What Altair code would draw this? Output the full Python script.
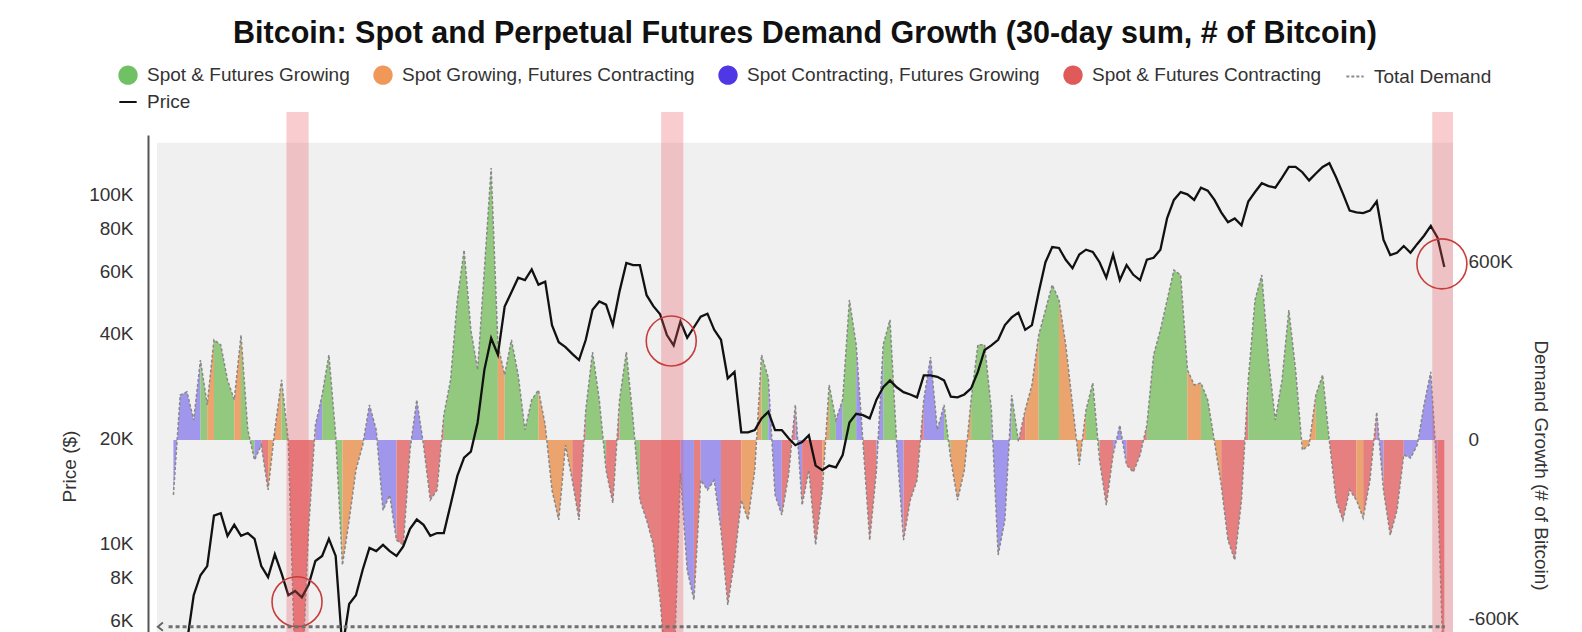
import altair as alt
import pandas as pd

TITLE = "Bitcoin: Spot and Perpetual Futures Demand Growth (30-day sum, # of Bitcoin)"

REGIME_NAMES = {
    "G": "Spot & Futures Growing",
    "O": "Spot Growing, Futures Contracting",
    "B": "Spot Contracting, Futures Growing",
    "R": "Spot & Futures Contracting",
}
CATS = [REGIME_NAMES[k] for k in "GOBR"]
LEGEND_ITEMS = CATS + ["Total Demand", "Price"]
LEGEND_COLORS = ["#6fc163", "#f0975a", "#4f37e6", "#e05a5a", "#8c8c8c", "#111111"]
AREA_COLORS = ["#93c97f", "#eca46f", "#a096ec", "#e68080"]

# samples every 14 days starting 2019-03-28
START = "2019-03-28"
STEP = "14D"

# 30-day demand growth, thousands of BTC
demand_k = [
    -185, 151, 162, 67, 269, 118, 337, 320, 202, 135,
    353, 34, -67, -17, -168, 34, 202, -5, -780, -820,
    -300, 50, 151, 286, 17, -421, -269, -101, -17, 118,
    34, -236, -185, -337, -353, -34, 135, -17, -202, -168,
    84, 202, 471, 639, 370, 236, 572, 915, 320, 219,
    337, 219, 34, 135, 168, 50, -168, -269, -17, -135,
    -269, 101, 296, 135, -101, -212, 135, 296, 67, -202,
    -269, -353, -538, -808, -808, -111, -437, -538, -135, -168,
    -135, -303, -555, -404, -202, -269, -101, 286, 209, -185,
    -252, -118, 118, -219, -101, -353, -168, 185, 67, 135,
    471, 320, -5, -337, -101, 320, 404, -17, -337, -202,
    -135, 135, 279, 34, 118, -67, -202, -101, 135, 320,
    320, 101, -387, -269, 151, -5, 101, 185, 353, 437,
    522, 471, 320, 118, -84, 101, 192, -67, -219, -50,
    50, -84, -108, -50, 50, 286, 370, 471, 572, 555,
    236, 185, 192, 135, -5, -151, -337, -404, -202, 202,
    471, 555, 269, 67, 202, 437, 236, -34, -17, 151,
    219, -5, -202, -269, -168, -202, -262, -135, 94, -168,
    -320, -236, -50, -61, -17, 118, 229, -135, -875,
]

# regime code per sample (G, O, B, R)
regime = (
    "BBBBGOGGGO" "GGBROOGRRR" "RBGGGOOOBB" "BBBRRBBRRR" "GGGGGGGGOG"
    "GGGGOOOOOR" "RGGGRRGGGR" "RRRRRBBRBB" "BRRROOOGBB" "RRBRRROGBG"
    "GBRRBGGBRR" "RBBBGOOOGG" "GBBBGROOGG" "GOOOOGGRRB" "BRRRGGGGGG"
    "OOGGORRRRG" "GGGGGGGOOG" "GRRRRORRBR" "RRBBBBBRR"
)

# BTC price, thousands of USD
price_k = [
    4.1, 4.5, 5.2, 7.1, 8.1, 8.6, 12.0, 12.2, 10.5, 11.3,
    10.5, 10.7, 10.3, 8.6, 8.0, 9.3, 8.2, 7.1, 7.3, 7.0,
    7.6, 8.9, 9.2, 10.3, 9.2, 5.0, 6.7, 7.1, 8.4, 9.7,
    9.5, 9.9, 9.5, 9.2, 9.8, 11.0, 11.7, 11.3, 10.5, 10.7,
    10.7, 12.9, 15.6, 17.6, 18.3, 22.2, 31.4, 38.7, 34.7, 47.7,
    52.4, 57.7, 56.8, 60.9, 55.1, 56.2, 42.2, 37.7, 36.5, 34.9,
    33.5, 38.3, 46.7, 49.3, 48.3, 42.2, 52.8, 63.6, 62.7, 62.7,
    51.4, 47.8, 45.3, 39.5, 36.9, 43.2, 38.8, 41.6, 44.6, 45.5,
    40.9, 38.3, 29.7, 31.0, 20.8, 20.8, 21.1, 22.8, 23.8, 21.1,
    21.1, 20.0, 19.1, 19.5, 20.4, 16.7, 16.2, 16.7, 16.5, 17.9,
    22.2, 23.5, 23.3, 22.8, 25.8, 28.0, 29.3, 28.0, 27.1, 26.7,
    26.2, 30.3, 30.3, 30.0, 29.3, 26.3, 26.2, 26.7, 27.8, 31.0,
    35.8, 36.9, 38.3, 42.2, 44.4, 45.8, 40.9, 42.2, 52.4, 63.9,
    70.6, 70.2, 64.9, 61.4, 67.2, 69.4, 68.4, 63.9, 57.7, 67.2,
    56.8, 62.7, 58.8, 56.8, 65.0, 65.8, 69.4, 85.5, 96.4, 101.5,
    100.0, 96.4, 104.5, 102.5, 96.4, 88.8, 83.2, 85.3, 81.5, 95.4,
    101.5, 107.6, 105.6, 104.5, 111.7, 119.8, 119.8, 115.7, 109.6, 114.7,
    119.8, 122.8, 111.7, 100.5, 89.8, 88.8, 88.3, 89.8, 95.4, 74.1,
    67.0, 68.0, 71.1, 68.0, 72.1, 76.1, 81.2, 75.1, 61.9,
]

# highlighted periods and circled price points
band_start = ["2019-11-17", "2022-01-01", "2026-05-17"]
band_end = ["2020-01-02", "2022-02-16", "2026-06-29"]
circle_date = ["2019-12-09", "2022-01-22", "2026-06-06"]
circle_price_k = [6.8, 38.0, 63.2]

# ---------------------------------------------------------------- tables
dates = pd.date_range(START, periods=len(demand_k), freq=STEP).strftime("%Y-%m-%d")
series_df = pd.DataFrame({"date": dates, "demand": demand_k, "price": price_k})

area_rows = []
seg = 0
for i in range(len(demand_k)):
    if i > 0 and regime[i] != regime[i - 1]:
        seg += 1
    name = REGIME_NAMES[regime[i]]
    area_rows.append({"date": dates[i], "demand": demand_k[i], "base": 0, "regime": name, "seg": seg})
    if i + 1 < len(demand_k) and regime[i + 1] != regime[i]:
        area_rows.append({"date": dates[i + 1], "demand": demand_k[i + 1], "base": 0, "regime": name, "seg": seg})
area_df = pd.DataFrame(area_rows)

band_df = pd.DataFrame({"start": band_start, "end": band_end, "top": 172.0, "bottom": 4.0})
circle_df = pd.DataFrame({"date": circle_date, "price": circle_price_k})
bg_df = pd.DataFrame({"x0": ["2019-02-22"], "x1": ["2026-06-29"], "top": [1000], "bottom": [-646]})
rule_df = pd.DataFrame({"x0": ["2019-03-18"], "x1": ["2026-06-12"], "p": [5.77]})
arrow_df = pd.DataFrame({"date": ["2019-03-01"], "p": [5.77]})
legend_df = pd.DataFrame({"item": LEGEND_ITEMS, "date": "2015-01-01", "price": 20.0})

# ---------------------------------------------------------------- scales
FONT = "Liberation Sans"
xs = alt.Scale(domain=[alt.DateTime(year=2019, month=2, date=22, utc=True),
                       alt.DateTime(year=2026, month=6, date=29, utc=True)])
ys_d = alt.Scale(domain=[-646, 1026], nice=False, zero=False)
ys_p = alt.Scale(type="log", domain=[5.57, 147.9], nice=False)

demand_axis = alt.Axis(
    orient="right", values=[-600, 0, 600],
    labelExpr="datum.value == 0 ? '0' : datum.value + 'K'",
    title="Demand Growth (# of Bitcoin)", domain=False, ticks=False, grid=False,
    labelPadding=15, titlePadding=12, titleY=330, labelFontSize=19, titleFontSize=19,
    titleFontWeight="normal", labelColor="#333", titleColor="#333", titleAngle=90,
    labelFont=FONT, titleFont=FONT,
)
price_axis = alt.Axis(
    orient="left", values=[6, 8, 10, 20, 40, 60, 80, 100],
    labelExpr="datum.value + 'K'", title="Price ($)", offset=9,
    domain=True, domainColor="#555", domainWidth=2, ticks=False, grid=False,
    labelPadding=15, titlePadding=9, titleY=331, labelFontSize=19, titleFontSize=19,
    titleFontWeight="normal", labelColor="#333", titleColor="#333",
    labelFont=FONT, titleFont=FONT,
)

X = lambda f: alt.X(f, scale=xs, axis=None)

bg = alt.Chart(bg_df).mark_rect(color="#f0f0f0", strokeWidth=0).encode(
    x=X("x0:T"), x2="x1:T",
    y=alt.Y("top:Q", scale=ys_d, axis=demand_axis), y2="bottom:Q",
)
areas = alt.Chart(area_df).mark_area(opacity=1, interpolate="linear").encode(
    x=X("date:T"),
    y=alt.Y("demand:Q", scale=ys_d, stack=None, axis=demand_axis), y2="base:Q",
    color=alt.Color("regime:N", scale=alt.Scale(domain=CATS, range=AREA_COLORS), legend=None),
    detail="seg:N",
)
dline = alt.Chart(series_df).mark_line(color="#888888", strokeWidth=1.5, strokeDash=[3, 2]).encode(
    x=X("date:T"), y=alt.Y("demand:Q", scale=ys_d, axis=demand_axis),
)
right = alt.layer(bg, areas, dline)

pline = alt.Chart(series_df).mark_line(color="#111111", strokeWidth=2.3).encode(
    x=X("date:T"), y=alt.Y("price:Q", scale=ys_p, axis=price_axis),
)
bands = alt.Chart(band_df).mark_rect(color="#eb5a60", opacity=0.3, strokeWidth=0).encode(
    x=X("start:T"), x2="end:T",
    y=alt.Y("top:Q", scale=ys_p, axis=price_axis), y2="bottom:Q",
)
circles = alt.Chart(circle_df).mark_point(
    shape="circle", size=2500, color="#c83c3c", strokeWidth=1.6, filled=False, opacity=1
).encode(x=X("date:T"), y=alt.Y("price:Q", scale=ys_p, axis=price_axis))
rule = alt.Chart(rule_df).mark_rule(color="#707070", strokeWidth=3, strokeDash=[4, 3]).encode(
    x=X("x0:T"), x2="x1:T", y=alt.Y("p:Q", scale=ys_p, axis=price_axis),
)
arrow = alt.Chart(arrow_df).mark_point(
    shape="M0.6,-1L-0.6,0L0.6,1", size=70, color="#666", strokeWidth=2, filled=False, opacity=1
).encode(x=X("date:T"), y=alt.Y("p:Q", scale=ys_p, axis=price_axis))

leg = alt.Legend(
    title=None, orient="none", legendX=-39, legendY=-70, direction="horizontal",
    columns=5, symbolSize=300, symbolStrokeWidth=2, labelFont=FONT, labelFontSize=19,
    labelColor="#333", labelOffset=9, columnPadding=20, rowPadding=4, padding=0,
    labelLimit=500,
)
legend_layer = alt.Chart(legend_df).mark_point(filled=True, clip=True, opacity=1).encode(
    x=X("date:T"), y=alt.Y("price:Q", scale=ys_p, axis=price_axis),
    fill=alt.Fill("item:N", scale=alt.Scale(domain=LEGEND_ITEMS, range=LEGEND_COLORS), legend=leg),
    stroke=alt.Stroke("item:N", scale=alt.Scale(domain=LEGEND_ITEMS, range=LEGEND_COLORS), legend=leg),
    shape=alt.Shape("item:N", scale=alt.Scale(domain=LEGEND_ITEMS, range=["circle"] * 4 + ["stroke", "stroke"]), legend=leg),
    strokeDash=alt.StrokeDash("item:N", scale=alt.Scale(domain=LEGEND_ITEMS, range=[[1, 0]] * 4 + [[3, 2], [1, 0]]), legend=leg),
)
left = alt.layer(pline, bands, circles, rule, arrow, legend_layer)

chart = (
    alt.layer(right, left)
    .resolve_scale(y="independent")
    .properties(
        width=1296, height=497,
        title=alt.TitleParams(TITLE, fontSize=30.5, font=FONT, fontWeight="bold", color="#111",
                              anchor="middle", offset=16),
        padding={"left": 157, "top": 135, "right": 129, "bottom": 0},
        autosize=alt.AutoSizeParams(type="none"),
        background="white",
        view=alt.ViewBackground(stroke="transparent", strokeWidth=0, strokeOpacity=0),
    )
    .configure_view(stroke="transparent", strokeWidth=0, strokeOpacity=0)
    .configure_axisX(grid=False, domain=False, ticks=False, labels=False)
    .configure_axis(grid=False)
    .configure(font=FONT)
)

chart.save("out.html", embed_options={"renderer": "svg", "actions": False})
